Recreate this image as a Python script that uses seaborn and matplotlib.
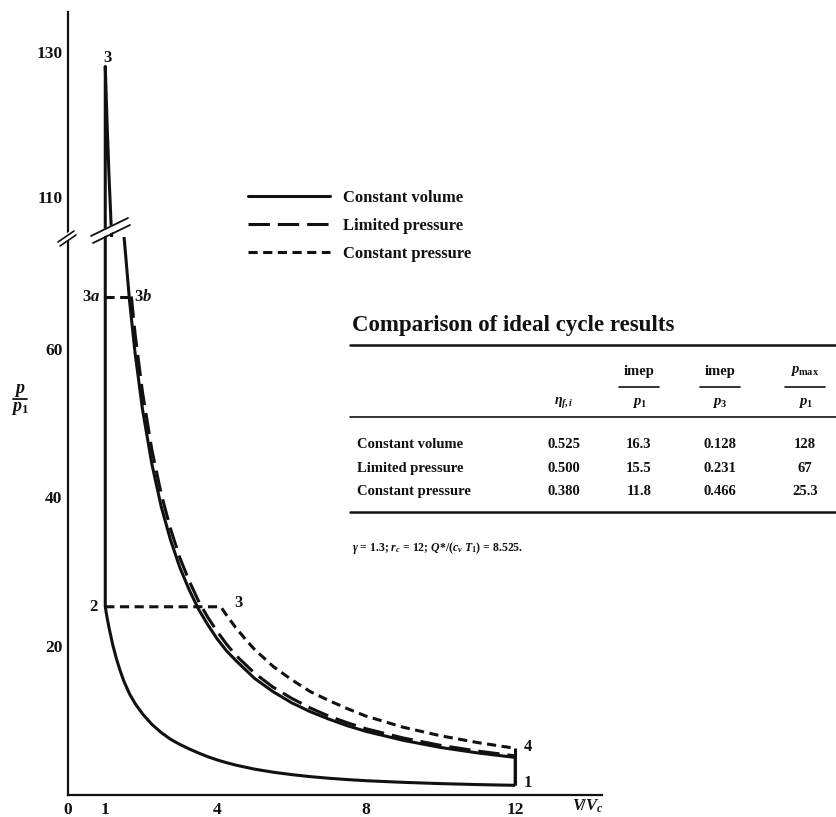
import matplotlib
matplotlib.use("Agg")
import matplotlib.pyplot as plt
from matplotlib.lines import Line2D
import seaborn as sns
import pandas as pd

FIG_W, FIG_H = 836, 817

# values: p/p1 against V/Vc
v_comp = [1, 1.05, 1.1, 1.2, 1.3, 1.4, 1.5, 1.65, 1.8, 2, 2.25, 2.5, 2.75, 3, 3.25, 3.5, 3.75, 4,
          4.25, 4.5, 5, 5.5, 6, 6.5, 7, 7.5, 8, 9, 10, 11, 12]
p_comp = [25.3, 23.8, 22.5, 20.2, 18.3, 16.7, 15.3, 13.6, 12.3, 10.9, 9.5, 8.4, 7.5, 6.8, 6.2, 5.65, 5.15, 4.72,
          4.35, 4.02, 3.48, 3.07, 2.74, 2.47, 2.25, 2.07, 1.92, 1.7, 1.53, 1.4, 1.3]

v_cv_exp = [1, 1.05, 1.1, 1.2, 1.3, 1.4, 1.5, 1.65, 1.8, 2, 2.25, 2.5, 2.75, 3, 3.25, 3.5, 3.75, 4,
            4.25, 4.5, 5, 5.5, 6, 6.5, 7, 7.5, 8, 9, 10, 11, 12]
p_cv_exp = [128, 120, 113, 101, 91, 82.4, 75.3, 66.5, 59.4, 51.8, 44.5, 38.8, 34.3, 30.6, 27.6, 25.0, 22.9, 21.0,
            19.4, 18.1, 15.7, 13.9, 12.4, 11.2, 10.2, 9.3, 8.55, 7.34, 6.39, 5.65, 5.05]

v_lp_exp = [1.7, 1.8, 2, 2.25, 2.5, 2.75, 3, 3.25, 3.5, 3.75, 4, 4.25, 4.5, 5, 5.5, 6, 6.5, 7, 7.5, 8,
            9, 10, 11, 12]
p_lp_exp = [67, 62.0, 54.1, 46.4, 40.5, 35.8, 31.9, 28.8, 26.1, 23.9, 22.0, 20.3, 18.8, 16.4, 14.5, 13.0, 11.7,
            10.6, 9.7, 8.9, 7.66, 6.67, 5.9, 5.26]

v_cp_exp = [4.1, 4.25, 4.5, 4.75, 5, 5.5, 6, 6.5, 7, 7.5, 8, 9, 10, 11, 12]
p_cp_exp = [25.3, 24.2, 22.5, 21.0, 19.6, 17.3, 15.5, 13.9, 12.7, 11.6, 10.6, 9.1, 7.96, 7.04, 6.28]

p2 = 25.3
p3a = 67

x_major = [0, 1, 4, 8, 12]
x_minor = [2, 3, 5, 6, 7, 9, 10, 11]
y_low_major = [20, 40, 60]
y_low_minor = [10, 30, 50, 70]
y_up_major = [110, 130]
y_up_minor = [120]

cycles = ["Constant volume", "Limited pressure", "Constant pressure"]
eta = ["0.525", "0.500", "0.380"]
imep_p1 = ["16.3", "15.5", "11.8"]
imep_p3 = ["0.128", "0.231", "0.466"]
pmax_p1 = ["128", "67", "25.3"]

LW = 2.2
INK = "#111111"
SOLID = "-"
LONG = (0, (7, 2.6))
SHORT = (0, (3, 1.8))


def fx(px):
    return px / FIG_W


def fy(py):
    return 1 - py / FIG_H


def segments():
    """list of (frame, linestyle) for every drawn piece of the three cycles"""
    segs = []
    cv = pd.DataFrame({
        "V": v_comp[::-1] + v_cv_exp + [12],
        "p": p_comp[::-1] + p_cv_exp + [p_comp[-1]],
    })
    segs.append((cv, SOLID))
    segs.append((pd.DataFrame({"V": [1, v_lp_exp[0]], "p": [p3a, p3a]}), SHORT))
    segs.append((pd.DataFrame({"V": v_lp_exp, "p": p_lp_exp}), LONG))
    segs.append((pd.DataFrame({"V": [1] + v_cp_exp, "p": [p2] + p_cp_exp}), SHORT))
    segs.append((pd.DataFrame({"V": [12, 12], "p": [p_comp[-1], p_cp_exp[-1]]}), SOLID))
    return segs


def style_axis(ax, lower):
    sns.despine(ax=ax, top=True, right=True, bottom=not lower)
    ax.spines["left"].set_linewidth(1.6)
    ax.spines["bottom"].set_linewidth(1.6)
    ax.spines["left"].set_color(INK)
    ax.spines["bottom"].set_color(INK)
    ax.set_xlabel("")
    ax.set_ylabel("")
    ax.tick_params(axis="y", which="both", direction="in", length=8, width=1.4,
                   pad=4, labelsize=12.5, color=INK)
    if lower:
        ax.set_ylim(0, 75)
        ax.set_yticks(y_low_major)
        ax.set_yticks(y_low_minor, minor=True)
        ax.set_xticks(x_major)
        ax.set_xticks(x_minor, minor=True)
        ax.tick_params(axis="x", which="both", direction="in", length=5, width=1.3,
                       pad=5, labelsize=12.5, color=INK)
    else:
        ax.set_ylim(104.5, 135.5)
        ax.set_yticks(y_up_major)
        ax.set_yticks(y_up_minor, minor=True)
        ax.tick_params(axis="x", which="both", bottom=False, labelbottom=False)


def add_line(fig, xs, ys, **kw):
    fig.add_artist(Line2D([fx(x) for x in xs], [fy(y) for y in ys],
                          transform=fig.transFigure, **kw))


def main():
    sns.set_theme(style="white")
    plt.rcParams["font.family"] = ["Liberation Serif", "DejaVu Serif"]
    plt.rcParams["font.weight"] = "bold"
    plt.rcParams["mathtext.fontset"] = "custom"
    plt.rcParams["mathtext.rm"] = "Liberation Serif:bold"
    plt.rcParams["mathtext.it"] = "Liberation Serif:italic:bold"
    plt.rcParams["mathtext.bf"] = "Liberation Serif:bold"
    plt.rcParams["text.color"] = INK
    plt.rcParams["xtick.color"] = INK
    plt.rcParams["ytick.color"] = INK

    fig = plt.figure(figsize=(FIG_W / 100, FIG_H / 100), dpi=100)
    fig.patch.set_facecolor("white")
    ax_lo = fig.add_axes([fx(68), fy(795), fx(602) - fx(68), fy(237) - fy(795)])
    ax_up = fig.add_axes([fx(68), fy(237), fx(602) - fx(68), fy(12) - fy(237)], sharex=ax_lo)
    for ax in (ax_lo, ax_up):
        ax.set_facecolor("none")

    for df, ls in segments():
        for ax in (ax_lo, ax_up):
            sns.lineplot(data=df, x="V", y="p", ax=ax, sort=False, estimator=None,
                         color=INK, lw=LW, linestyle=ls, solid_capstyle="butt",
                         solid_joinstyle="round")

    ax_lo.set_xlim(0, 14.33)
    style_axis(ax_lo, lower=True)
    style_axis(ax_up, lower=False)

    # state point labels
    ax_up.text(1.05, 129.2, "3", ha="center", va="center", fontsize=12)
    ax_lo.text(0.87, p3a, r"3$a$", ha="right", va="center", fontsize=12)
    ax_lo.text(1.76, p3a, r"3$b$", ha="left", va="center", fontsize=12)
    ax_lo.text(0.8, p2, "2", ha="right", va="center", fontsize=12)
    ax_lo.text(4.45, 25.8, "3", ha="left", va="center", fontsize=12)
    ax_lo.text(12.22, 6.4, "4", ha="left", va="center", fontsize=12)
    ax_lo.text(12.22, 1.6, "1", ha="left", va="center", fontsize=12)

    # axis labels
    fig.text(fx(20), fy(391), r"$p$", ha="center", va="center", fontsize=13)
    add_line(fig, [13, 27], [399, 399], color=INK, lw=1.3)
    fig.text(fx(20), fy(408), r"$p_1$", ha="center", va="center", fontsize=13)
    fig.text(fx(572), fy(806), r"$V\!/V_c$", ha="left", va="center", fontsize=12)

    # broken axis marks
    add_line(fig, [60, 75], [242, 232], color="white", lw=5)
    add_line(fig, [58, 74], [242, 231], color=INK, lw=1.2)
    add_line(fig, [60, 76], [246, 235], color=INK, lw=1.2)
    add_line(fig, [93, 128], [238, 221], color="white", lw=5)
    add_line(fig, [91, 128], [236, 218], color=INK, lw=1.3)
    add_line(fig, [93, 130], [243, 225], color=INK, lw=1.3)

    # legend
    handles = [Line2D([], [], color=INK, lw=LW, linestyle=s) for s in (SOLID, LONG, SHORT)]
    fig.legend(handles, cycles, loc="upper left", bbox_to_anchor=(fx(248), fy(190)),
               frameon=False, fontsize=12, handlelength=4.9, handletextpad=0.8,
               labelspacing=0.72, borderpad=0, borderaxespad=0)

    # table of results
    fig.text(fx(352), fy(326), "Comparison of ideal cycle results", fontsize=16.5,
             ha="left", va="center")
    add_line(fig, [350, 836], [345, 345], color=INK, lw=1.8)
    add_line(fig, [350, 836], [417, 417], color=INK, lw=1.2)
    add_line(fig, [350, 836], [512, 512], color=INK, lw=1.8)

    col_x = [564, 639, 720, 805]
    fig.text(fx(col_x[0]), fy(403), r"$\eta_{f,i}$", ha="center", va="center", fontsize=10)
    heads = [("imep", r"$p_1$"), ("imep", r"$p_3$"), (r"$p_{\max}$", r"$p_1$")]
    for cx, (num, den) in zip(col_x[1:], heads):
        fig.text(fx(cx), fy(371), num, ha="center", va="center", fontsize=10.5)
        add_line(fig, [cx - 20, cx + 20], [387, 387], color=INK, lw=1.2)
        fig.text(fx(cx), fy(403), den, ha="center", va="center", fontsize=10.5)

    row_y = [444, 468, 492]
    for i, name in enumerate(cycles):
        fig.text(fx(357), fy(row_y[i]), name, ha="left", va="center", fontsize=10.5)
        for cx, col in zip(col_x, (eta, imep_p1, imep_p3, pmax_p1)):
            fig.text(fx(cx), fy(row_y[i]), col[i], ha="center", va="center", fontsize=10.5)

    fig.text(fx(352), fy(548), r"$\gamma$ = 1.3; $r_c$ = 12; $Q$*/($c_v$ $T_1$) = 8.525.",
             ha="left", va="center", fontsize=8.5)

    fig.savefig("out.png", dpi=100, facecolor="white")


if __name__ == "__main__":
    main()
